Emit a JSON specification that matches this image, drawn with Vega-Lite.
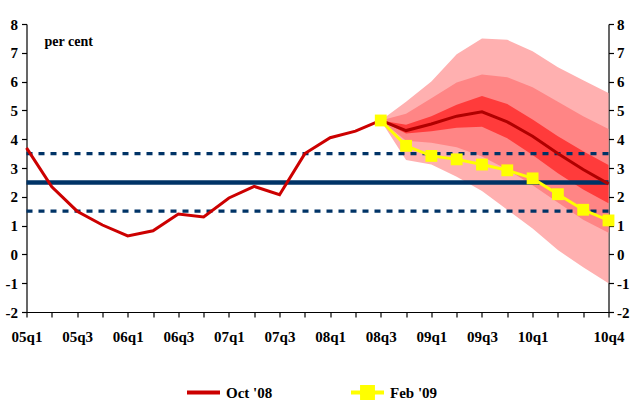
{
  "$schema": "https://vega.github.io/schema/vega-lite/v6.json",
  "width": 582,
  "height": 288,
  "autosize": {"type": "none"},
  "padding": {"left": 26.5, "top": 24, "right": 23.5, "bottom": 102},
  "background": "white",
  "config": {
    "view": {"stroke": null},
    "axis": {
      "labelFont": "Liberation Serif",
      "labelFontWeight": "bold",
      "labelFontSize": 15,
      "labelColor": "#000000",
      "domainColor": "#000000",
      "tickColor": "#000000",
      "domainWidth": 1.2,
      "tickWidth": 1.2,
      "tickSize": 5,
      "grid": false,
      "title": null
    }
  },
  "datasets": {
    "fan": [
      {"q": "08q3", "lightLo": 4.65, "medLo": 4.65, "darkLo": 4.65, "central": 4.65, "darkHi": 4.65, "medHi": 4.65, "lightHi": 4.65},
      {"q": "08q4", "lightLo": 3.28, "medLo": 3.95, "darkLo": 4.2, "central": 4.3, "darkHi": 4.5, "medHi": 4.88, "lightHi": 5.3},
      {"q": "09q1", "lightLo": 3.12, "medLo": 3.88, "darkLo": 4.28, "central": 4.53, "darkHi": 4.8, "medHi": 5.42, "lightHi": 6.0},
      {"q": "09q2", "lightLo": 2.7, "medLo": 3.72, "darkLo": 4.4, "central": 4.8, "darkHi": 5.2, "medHi": 5.97, "lightHi": 6.95},
      {"q": "09q3", "lightLo": 2.2, "medLo": 3.4, "darkLo": 4.43, "central": 4.95, "darkHi": 5.5, "medHi": 6.25, "lightHi": 7.5},
      {"q": "09q4", "lightLo": 1.55, "medLo": 2.95, "darkLo": 4.03, "central": 4.6, "darkHi": 5.22, "medHi": 6.15, "lightHi": 7.45},
      {"q": "10q1", "lightLo": 0.9, "medLo": 2.4, "darkLo": 3.45, "central": 4.1, "darkHi": 4.68, "medHi": 5.8, "lightHi": 7.05},
      {"q": "10q2", "lightLo": 0.15, "medLo": 1.8, "darkLo": 2.82, "central": 3.5, "darkHi": 4.1, "medHi": 5.3, "lightHi": 6.5},
      {"q": "10q3", "lightLo": -0.45, "medLo": 1.2, "darkLo": 2.25, "central": 2.95, "darkHi": 3.58, "medHi": 4.8, "lightHi": 6.05},
      {"q": "10q4", "lightLo": -1.0, "medLo": 0.75, "darkLo": 1.78, "central": 2.45, "darkHi": 3.1, "medHi": 4.35, "lightHi": 5.6}
    ],
    "lines": [
      {"q": "05q1", "series": "Oct '08", "value": 3.7},
      {"q": "05q2", "series": "Oct '08", "value": 2.35},
      {"q": "05q3", "series": "Oct '08", "value": 1.5},
      {"q": "05q4", "series": "Oct '08", "value": 1.02},
      {"q": "06q1", "series": "Oct '08", "value": 0.64},
      {"q": "06q2", "series": "Oct '08", "value": 0.82},
      {"q": "06q3", "series": "Oct '08", "value": 1.4},
      {"q": "06q4", "series": "Oct '08", "value": 1.3},
      {"q": "07q1", "series": "Oct '08", "value": 1.96},
      {"q": "07q2", "series": "Oct '08", "value": 2.36},
      {"q": "07q3", "series": "Oct '08", "value": 2.07},
      {"q": "07q4", "series": "Oct '08", "value": 3.5},
      {"q": "08q1", "series": "Oct '08", "value": 4.05},
      {"q": "08q2", "series": "Oct '08", "value": 4.28},
      {"q": "08q3", "series": "Oct '08", "value": 4.65},
      {"q": "08q3", "series": "Feb '09", "value": 4.65},
      {"q": "08q4", "series": "Feb '09", "value": 3.77},
      {"q": "09q1", "series": "Feb '09", "value": 3.42},
      {"q": "09q2", "series": "Feb '09", "value": 3.3},
      {"q": "09q3", "series": "Feb '09", "value": 3.12},
      {"q": "09q4", "series": "Feb '09", "value": 2.92},
      {"q": "10q1", "series": "Feb '09", "value": 2.64},
      {"q": "10q2", "series": "Feb '09", "value": 2.09},
      {"q": "10q3", "series": "Feb '09", "value": 1.55},
      {"q": "10q4", "series": "Feb '09", "value": 1.18}
    ],
    "refs": [
      {"level": 3.5, "kind": "band"},
      {"level": 2.5, "kind": "target"},
      {"level": 1.5, "kind": "band"}
    ],
    "note": [
      {"q": "05q1", "value": 7.37, "text": "per cent"}
    ]
  },
  "layer": [
    {
      "data": {"name": "fan"},
      "mark": {"type": "area", "color": "#FFB0B0", "opacity": 1},
      "encoding": {
        "x": {
          "field": "q", "type": "ordinal",
          "scale": {"type": "point", "padding": 0, "domain": ["05q1","05q2","05q3","05q4","06q1","06q2","06q3","06q4","07q1","07q2","07q3","07q4","08q1","08q2","08q3","08q4","09q1","09q2","09q3","09q4","10q1","10q2","10q3","10q4"]},
          "axis": {
            "orient": "bottom",
            "labelAngle": 0,
            "labelOverlap": false,
            "labelFlush": false,
            "labelBound": false,
            "labelPadding": 12,
            "labelExpr": "indexof(['05q1','05q3','06q1','06q3','07q1','07q3','08q1','08q3','09q1','09q3','10q1','10q4'], datum.value) >= 0 ? datum.value : ''"
          }
        },
        "y": {
          "field": "lightLo", "type": "quantitative",
          "scale": {"domain": [-2, 8], "nice": false, "zero": false},
          "axis": {"orient": "left", "values": [-2,-1,0,1,2,3,4,5,6,7,8], "labelPadding": 4, "labelExpr": "toString(datum.value)"}
        },
        "y2": {"field": "lightHi"}
      }
    },
    {
      "data": {"name": "fan"},
      "mark": {"type": "area", "color": "#FF8585", "opacity": 1},
      "encoding": {
        "x": {"field": "q", "type": "ordinal"},
        "y": {"field": "medLo", "type": "quantitative", "scale": {"domain": [-2, 8], "nice": false, "zero": false}, "axis": null},
        "y2": {"field": "medHi"}
      }
    },
    {
      "data": {"name": "fan"},
      "mark": {"type": "area", "color": "#FF3B3B", "opacity": 1},
      "encoding": {
        "x": {"field": "q", "type": "ordinal"},
        "y": {"field": "darkLo", "type": "quantitative", "scale": {"domain": [-2, 8], "nice": false, "zero": false}, "axis": null},
        "y2": {"field": "darkHi"}
      }
    },
    {
      "data": {"name": "refs"},
      "transform": [{"filter": "datum.kind == 'band'"}],
      "mark": {"type": "rule", "color": "#003366", "strokeWidth": 3.3, "strokeDash": [6, 6]},
      "encoding": {
        "y": {"field": "level", "type": "quantitative", "scale": {"domain": [-2, 8], "nice": false, "zero": false}, "axis": null}
      }
    },
    {
      "data": {"name": "refs"},
      "transform": [{"filter": "datum.kind == 'target'"}],
      "mark": {"type": "rule", "color": "#003366", "strokeWidth": 4.5},
      "encoding": {
        "y": {"field": "level", "type": "quantitative", "scale": {"domain": [-2, 8], "nice": false, "zero": false}, "axis": null}
      }
    },
    {
      "data": {"name": "fan"},
      "mark": {"type": "line", "color": "#B00000", "strokeWidth": 3},
      "encoding": {
        "x": {"field": "q", "type": "ordinal"},
        "y": {"field": "central", "type": "quantitative", "scale": {"domain": [-2, 8], "nice": false, "zero": false}, "axis": null}
      }
    },
    {
      "data": {"name": "lines"},
      "mark": {"type": "line", "strokeWidth": 3},
      "encoding": {
        "x": {"field": "q", "type": "ordinal"},
        "y": {"field": "value", "type": "quantitative", "scale": {"domain": [-2, 8], "nice": false, "zero": false}, "axis": null},
        "color": {
          "field": "series", "type": "nominal",
          "scale": {"domain": ["Oct '08", "Feb '09"], "range": ["#CC0000", "#FFFF00"]},
          "legend": {
            "orient": "none",
            "legendX": 158.5,
            "legendY": 350,
            "direction": "horizontal",
            "title": null,
            "padding": 0,
            "labelFont": "Liberation Serif",
            "labelFontSize": 15,
            "labelFontWeight": "bold",
            "labelColor": "#000000",
            "labelOffset": 4,
            "symbolSize": 1089,
            "symbolStrokeWidth": 4,
            "columnPadding": 70,
            "encode": {
              "symbols": {
                "update": {
                  "shape": {"signal": "indexof(datum.value, 'Feb') == 0 ? 'M-1,0H1M-0.33,-0.33H0.33V0.33H-0.33Z' : 'M-1,0H1M0,-0.33L0,-0.33M0,0.33L0,0.33'"},
                  "fill": {"signal": "indexof(datum.value, 'Feb') == 0 ? '#FFFF00' : 'transparent'"},
                  "stroke": {"signal": "indexof(datum.value, 'Feb') == 0 ? '#FFFF00' : '#CC0000'"},
                  "strokeWidth": {"value": 4},
                  "opacity": {"value": 1}
                }
              }
            }
          }
        }
      }
    },
    {
      "data": {"name": "lines"},
      "transform": [{"filter": "datum.series == \"Feb '09\""}],
      "mark": {"type": "square", "size": 140, "filled": true, "opacity": 1},
      "encoding": {
        "x": {"field": "q", "type": "ordinal"},
        "y": {
          "field": "value", "type": "quantitative",
          "scale": {"domain": [-2, 8], "nice": false, "zero": false},
          "axis": {"orient": "right", "values": [-2,-1,0,1,2,3,4,5,6,7,8], "labelPadding": 3, "labelExpr": "toString(datum.value)"}
        },
        "color": {"field": "series", "type": "nominal"}
      }
    },
    {
      "data": {"name": "note"},
      "mark": {"type": "text", "align": "left", "baseline": "middle", "dx": 18, "font": "Liberation Serif", "fontSize": 14, "fontWeight": "bold", "color": "#000000"},
      "encoding": {
        "x": {"field": "q", "type": "ordinal"},
        "y": {"field": "value", "type": "quantitative", "scale": {"domain": [-2, 8], "nice": false, "zero": false}, "axis": null},
        "text": {"field": "text"}
      }
    }
  ],
  "resolve": {"scale": {"y": "independent"}}
}
